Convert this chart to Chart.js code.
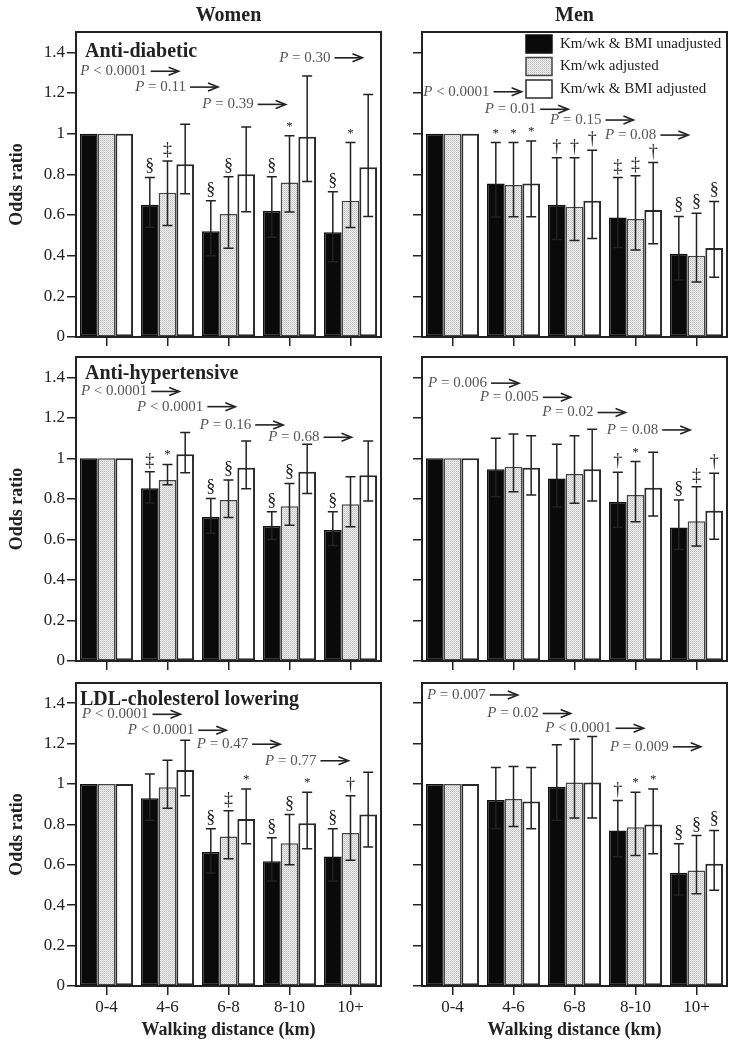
<!DOCTYPE html>
<html>
<head>
<meta charset="utf-8">
<script src="https://cdn.jsdelivr.net/npm/chart.js@4.4.0/dist/chart.umd.min.js"></script>
<style>
  body { margin: 0; background: #fff; width: 735px; height: 1050px; position: relative; overflow: hidden; }
  canvas { position: absolute; }
</style>
</head>
<body>
<canvas id="wDiab" width="392" height="350" style="left:0;top:0"></canvas>
<canvas id="mDiab" width="343" height="350" style="left:392px;top:0"></canvas>
<canvas id="wHyp" width="392" height="330" style="left:0;top:345px"></canvas>
<canvas id="mHyp" width="343" height="330" style="left:392px;top:345px"></canvas>
<canvas id="wLdl" width="392" height="375" style="left:0;top:675px"></canvas>
<canvas id="mLdl" width="343" height="375" style="left:392px;top:675px"></canvas>
<script>
// categories / series
const groups = ['0-4', '4-6', '6-8', '8-10', '10+'];
const seriesNames = ['Km/wk & BMI unadjusted', 'Km/wk adjusted', 'Km/wk & BMI adjusted'];
const yTickLabels = ['0', '0.2', '0.4', '0.6', '0.8', '1', '1.2', '1.4'];

// odds ratios, one row per series (unadjusted, km adjusted, km & BMI adjusted)
// Women, anti-diabetic
const womenDiabOR = [[1, 0.65, 0.52, 0.62, 0.515], [1, 0.71, 0.605, 0.76, 0.67], [1, 0.85, 0.80, 0.985, 0.835]];
const womenDiabHi = [[null, 0.785, 0.67, 0.788, 0.714], [null, 0.866, 0.788, 0.99, 0.956], [null, 1.046, 1.033, 1.283, 1.193]];
const womenDiabLo = [[null, 0.54, 0.40, 0.49, 0.37], [null, 0.548, 0.436, 0.615, 0.539], [null, 0.705, 0.616, 0.765, 0.593]];
const womenDiabSig = [['', '§', '§', '§', '§'], ['', '‡', '§', '*', '*'], ['', '', '', '', '']];
const womenDiabP = ['< 0.0001', '= 0.11', '= 0.39', '= 0.30'];

// Men, anti-diabetic
const menDiabOR = [[1, 0.755, 0.65, 0.588, 0.409], [1, 0.747, 0.641, 0.58, 0.40], [1, 0.755, 0.67, 0.624, 0.438]];
const menDiabHi = [[null, 0.956, 0.882, 0.784, 0.593], [null, 0.956, 0.882, 0.793, 0.608], [null, 0.964, 0.918, 0.858, 0.667]];
const menDiabLo = [[null, 0.59, 0.48, 0.44, 0.28], [null, 0.592, 0.474, 0.428, 0.27], [null, 0.592, 0.485, 0.458, 0.294]];
const menDiabSig = [['', '*', '†', '‡', '§'], ['', '*', '†', '‡', '§'], ['', '*', '†', '†', '§']];
const menDiabP = ['< 0.0001', '= 0.01', '= 0.15', '= 0.08'];

// Women, anti-hypertensive
const womenHypOR = [[1, 0.852, 0.711, 0.666, 0.646], [1, 0.893, 0.794, 0.764, 0.773], [1, 1.02, 0.954, 0.934, 0.917]];
const womenHypHi = [[null, 0.934, 0.802, 0.736, 0.736], [null, 0.97, 0.893, 0.876, 0.909], [null, 1.127, 1.085, 1.07, 1.085]];
const womenHypLo = [[null, 0.78, 0.63, 0.60, 0.57], [null, 0.87, 0.708, 0.67, 0.662], [null, 0.929, 0.85, 0.827, 0.79]];
const womenHypSig = [['', '‡', '§', '§', '§'], ['', '*', '§', '§', ''], ['', '', '', '', '']];
const womenHypP = ['< 0.0001', '< 0.0001', '= 0.16', '= 0.68'];

// Men, anti-hypertensive
const menHypOR = [[1, 0.946, 0.901, 0.786, 0.659], [1, 0.959, 0.923, 0.819, 0.69], [1, 0.954, 0.946, 0.855, 0.741]];
const menHypHi = [[null, 1.099, 1.069, 0.931, 0.794], [null, 1.12, 1.112, 0.984, 0.86], [null, 1.112, 1.143, 1.03, 0.926]];
const menHypLo = [[null, 0.81, 0.76, 0.66, 0.55], [null, 0.835, 0.778, 0.687, 0.567], [null, 0.819, 0.789, 0.715, 0.601]];
const menHypSig = [['', '', '', '†', '§'], ['', '', '', '*', '‡'], ['', '', '', '', '†']];
const menHypP = ['= 0.006', '= 0.005', '= 0.02', '= 0.08'];

// Women, LDL-cholesterol lowering
const womenLdlOR = [[1, 0.929, 0.663, 0.618, 0.641], [1, 0.984, 0.74, 0.707, 0.757], [1, 1.069, 0.827, 0.806, 0.849]];
const womenLdlHi = [[null, 1.049, 0.778, 0.734, 0.778], [null, 1.118, 0.868, 0.849, 0.942], [null, 1.217, 0.975, 0.959, 1.058]];
const womenLdlLo = [[null, 0.82, 0.56, 0.52, 0.52], [null, 0.88, 0.63, 0.60, 0.622], [null, 0.942, 0.704, 0.679, 0.688]];
const womenLdlSig = [['', '', '§', '§', '§'], ['', '', '‡', '§', '†'], ['', '', '*', '*', '']];
const womenLdlP = ['< 0.0001', '< 0.0001', '= 0.47', '= 0.77'];

// Men, LDL-cholesterol lowering
const menLdlOR = [[1, 0.921, 0.987, 0.77, 0.561], [1, 0.926, 1.008, 0.786, 0.572], [1, 0.913, 1.008, 0.799, 0.605]];
const menLdlHi = [[null, 1.082, 1.194, 0.918, 0.704], [null, 1.087, 1.222, 0.959, 0.745], [null, 1.082, 1.235, 0.975, 0.77]];
const menLdlLo = [[null, 0.78, 0.82, 0.64, 0.45], [null, 0.789, 0.832, 0.646, 0.457], [null, 0.778, 0.832, 0.655, 0.474]];
const menLdlSig = [['', '', '', '†', '§'], ['', '', '', '*', '§'], ['', '', '', '*', '§']];
const menLdlP = ['= 0.007', '= 0.02', '< 0.0001', '= 0.009'];

const serif = '"Liberation Serif", "Times New Roman", serif';
const ink = '#222';

// dotted light-gray fill for the middle series
const grayFill = (() => {
  const c = document.createElement('canvas');
  c.width = 2; c.height = 2;
  const g = c.getContext('2d');
  g.fillStyle = '#ececec'; g.fillRect(0, 0, 2, 2);
  g.fillStyle = '#bcbcbc'; g.fillRect(0, 0, 1, 1);
  g.fillStyle = '#d6d6d6'; g.fillRect(1, 1, 1, 1);
  return g.createPattern(c, 'repeat');
})();
const fills = ['#0a0a0a', grayFill, '#ffffff'];
const borders = ['#111', '#444', '#2a2a2a'];
const borderWidths = [1.5, 1.5, 2];

// panel layout (pixel placement of the boxes and the text notes)
const panels = [
  { id: 'wDiab', or: womenDiabOR, hi: womenDiabHi, lo: womenDiabLo, sig: womenDiabSig, p: womenDiabP,
    pPos: [[-0.43, 1.307], [0.47, 1.229], [1.57, 1.144], [2.83, 1.373]],
    label: 'Anti-diabetic', labelPos: [9, 25], header: 'Women', left: true, bottom: false, legend: false,
    pad: { top: 32, right: 11, bottom: 0 }, yWidth: 76, xHeight: 13 },
  { id: 'mDiab', or: menDiabOR, hi: menDiabHi, lo: menDiabLo, sig: menDiabSig, p: menDiabP,
    pPos: [[-0.48, 1.206], [0.53, 1.12], [1.6, 1.067], [2.5, 0.993]],
    label: '', header: 'Men', left: false, bottom: false, legend: true,
    pad: { top: 32, right: 8, bottom: 0 }, yWidth: 30, xHeight: 13 },
  { id: 'wHyp', or: womenHypOR, hi: womenHypHi, lo: womenHypLo, sig: womenHypSig, p: womenHypP,
    pPos: [[-0.42, 1.33], [0.5, 1.255], [1.53, 1.165], [2.65, 1.104]],
    label: 'Anti-hypertensive', labelPos: [9, 22], header: '', left: true, bottom: false, legend: false,
    pad: { top: 12, right: 11, bottom: 0 }, yWidth: 76, xHeight: 14 },
  { id: 'mHyp', or: menHypOR, hi: menHypHi, lo: menHypLo, sig: menHypSig, p: menHypP,
    pPos: [[-0.4, 1.371], [0.45, 1.301], [1.47, 1.226], [2.53, 1.14]],
    label: '', header: '', left: false, bottom: false, legend: false,
    pad: { top: 12, right: 8, bottom: 0 }, yWidth: 30, xHeight: 14 },
  { id: 'wLdl', or: womenLdlOR, hi: womenLdlHi, lo: womenLdlLo, sig: womenLdlSig, p: womenLdlP,
    pPos: [[-0.4, 1.345], [0.35, 1.266], [1.48, 1.197], [2.6, 1.115]],
    label: 'LDL-cholesterol lowering', labelPos: [4, 22], header: '', left: true, bottom: true, legend: false,
    pad: { top: 8, right: 11, bottom: 8 }, yWidth: 76, xHeight: 56 },
  { id: 'mLdl', or: menLdlOR, hi: menLdlHi, lo: menLdlLo, sig: menLdlSig, p: menLdlP,
    pPos: [[-0.42, 1.441], [0.57, 1.349], [1.52, 1.276], [2.58, 1.184]],
    label: '', header: '', left: false, bottom: true, legend: false,
    pad: { top: 8, right: 8, bottom: 8 }, yWidth: 30, xHeight: 56 }
];

function drawArrow(ctx, x, y, len) {
  ctx.save();
  ctx.strokeStyle = ink;
  ctx.lineWidth = 1.6;
  ctx.beginPath();
  ctx.moveTo(x, y); ctx.lineTo(x + len - 2, y);
  ctx.stroke();
  ctx.beginPath();
  ctx.moveTo(x + len - 10, y - 4); ctx.lineTo(x + len, y); ctx.lineTo(x + len - 10, y + 4);
  ctx.stroke();
  ctx.restore();
}

function panelPlugin(p) {
  return {
    id: 'panel_' + p.id,
    afterDatasetsDraw(chart) {
      const ctx = chart.ctx;
      const y = chart.scales.y;
      ctx.save();
      ctx.strokeStyle = ink;
      ctx.lineWidth = 1.5;
      ctx.fillStyle = ink;
      ctx.textAlign = 'center';
      ctx.textBaseline = 'alphabetic';
      p.or.forEach((_, i) => {
        const meta = chart.getDatasetMeta(i);
        meta.data.forEach((bar, j) => {
          const hi = p.hi[i][j], lo = p.lo[i][j];
          if (hi == null) return;
          const yh = y.getPixelForValue(hi), yl = y.getPixelForValue(lo);
          ctx.beginPath();
          ctx.moveTo(bar.x, yl); ctx.lineTo(bar.x, yh);
          ctx.moveTo(bar.x - 5, yh); ctx.lineTo(bar.x + 5, yh);
          ctx.moveTo(bar.x - 5, yl); ctx.lineTo(bar.x + 5, yl);
          ctx.stroke();
          const s = p.sig[i][j];
          if (s) {
            ctx.font = (s === '*' ? '13px ' : '18px ') + serif;
            ctx.fillText(s, bar.x, yh - 6);
          }
        });
      });
      ctx.restore();
    },
    afterDraw(chart) {
      const ctx = chart.ctx;
      const a = chart.chartArea;
      const x = chart.scales.x, y = chart.scales.y;
      ctx.save();
      // frame
      ctx.strokeStyle = ink;
      ctx.lineWidth = 2;
      ctx.strokeRect(a.left, a.top, a.right - a.left, a.bottom - a.top);
      // column header
      if (p.header) {
        ctx.fillStyle = ink;
        ctx.font = 'bold 20px ' + serif;
        ctx.textAlign = 'center';
        ctx.textBaseline = 'alphabetic';
        ctx.fillText(p.header, (a.left + a.right) / 2, 21);
      }
      // panel label
      if (p.label) {
        ctx.fillStyle = ink;
        ctx.font = 'bold 20px ' + serif;
        ctx.textAlign = 'left';
        ctx.textBaseline = 'alphabetic';
        ctx.fillText(p.label, a.left + p.labelPos[0], a.top + p.labelPos[1]);
      }
      // trend P values
      p.p.forEach((txt, k) => {
        const px = x.getPixelForValue(p.pPos[k][0]);
        const py = y.getPixelForValue(p.pPos[k][1]);
        ctx.fillStyle = '#555';
        ctx.textAlign = 'left';
        ctx.textBaseline = 'middle';
        ctx.font = 'italic 15px ' + serif;
        ctx.fillText('P', px, py);
        let w = ctx.measureText('P').width;
        ctx.font = '15px ' + serif;
        ctx.fillText(' ' + txt, px + w, py);
        w += ctx.measureText(' ' + txt).width;
        drawArrow(ctx, px + w + 4, py, 28);
      });
      // legend
      if (p.legend) {
        seriesNames.forEach((name, i) => {
          const bx = a.left + 104, by = a.top + 3 + i * 22.5;
          ctx.fillStyle = fills[i];
          ctx.fillRect(bx, by, 26, 18);
          ctx.strokeStyle = borders[i];
          ctx.lineWidth = 1.5;
          ctx.strokeRect(bx, by, 26, 18);
          ctx.fillStyle = ink;
          ctx.font = '15px ' + serif;
          ctx.textAlign = 'left';
          ctx.textBaseline = 'middle';
          ctx.fillText(name, a.left + 138, by + 9);
        });
      }
      ctx.restore();
    }
  };
}

panels.forEach(p => {
  new Chart(document.getElementById(p.id), {
    type: 'bar',
    data: {
      labels: groups,
      datasets: seriesNames.map((name, i) => ({
        label: name,
        data: p.or[i],
        backgroundColor: fills[i],
        borderColor: borders[i],
        borderWidth: borderWidths[i],
        borderSkipped: false,
        categoryPercentage: 0.87,
        barPercentage: 1.0
      }))
    },
    options: {
      responsive: false,
      animation: false,
      layout: { padding: { left: 0, top: p.pad.top, right: p.pad.right, bottom: p.pad.bottom } },
      plugins: { legend: { display: false }, tooltip: { enabled: false } },
      scales: {
        x: {
          grid: { drawOnChartArea: false, offset: false, tickLength: 9, color: ink, lineWidth: 1.5 },
          border: { display: false },
          ticks: { display: p.bottom, color: ink, font: { family: serif, size: 17 }, padding: 2, maxRotation: 0 },
          title: { display: p.bottom, text: 'Walking distance (km)', color: ink,
                   font: { family: serif, size: 18, weight: 'bold' }, padding: { top: 0, bottom: 1 } },
          afterFit: s => { s.height = p.xHeight; s.paddingLeft = 0; s.paddingRight = 0; }
        },
        y: {
          min: 0, max: 1.5,
          grid: { drawOnChartArea: false, tickLength: 9, color: ink, lineWidth: 1.5 },
          border: { display: false },
          ticks: { display: p.left, stepSize: 0.2, includeBounds: false, color: ink,
                   font: { family: serif, size: 17 }, padding: 2,
                   callback: (v, i) => yTickLabels[i] },
          title: { display: p.left, text: 'Odds ratio', color: ink,
                   font: { family: serif, size: 18, weight: 'bold' }, padding: { top: 7, bottom: 0 } },
          afterFit: s => { s.width = p.yWidth; s.paddingTop = 0; s.paddingBottom = 0; }
        }
      }
    },
    plugins: [panelPlugin(p)]
  });
});
</script>
</body>
</html>
